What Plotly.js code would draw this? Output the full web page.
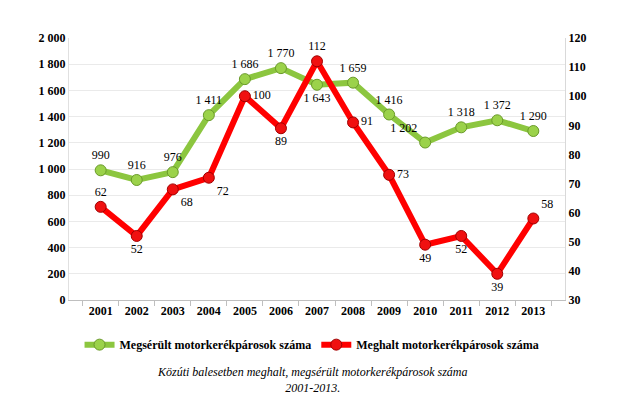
<!DOCTYPE html>
<html>
<head>
<meta charset="utf-8">
<script src="https://cdn.plot.ly/plotly-3.0.1.min.js"></script>
<style>html,body{margin:0;padding:0;background:#fff;}#chart{width:625px;height:399px;}</style>
</head>
<body>
<div id="chart"></div>
<script>
const years = ['2001','2002','2003','2004','2005','2006','2007','2008','2009','2010','2011','2012','2013'];
const injured = [990, 916, 976, 1411, 1686, 1770, 1643, 1659, 1416, 1202, 1318, 1372, 1290];
const killed = [62, 52, 68, 72, 100, 89, 112, 91, 73, 49, 52, 39, 58];
const injuredName = 'Megsérült motorkerékpárosok száma';
const killedName = 'Meghalt motorkerékpárosok száma';
const injuredPos = ['top center','top center','top center','top center','top center','top center','bottom center','top center','top center','top left','top center','top center','top center'];
const killedPos = ['top center','bottom center','bottom right','bottom right','middle right','bottom center','top center','middle right','middle right','bottom center','bottom center','bottom center','top right'];

function fmt(v){ const s = String(v); return s.length > 3 ? s.slice(0, s.length-3) + ' ' + s.slice(-3) : s; }

const fam = 'Liberation Serif, Times New Roman, serif';

const traces = [
  {
    x: years, y: injured, name: injuredName, type: 'scatter', mode: 'lines+markers+text',
    line: {color: '#8CC63F', width: 6},
    marker: {color: '#9BD24A', size: 11, line: {color: '#6A9A2A', width: 1}},
    text: injured.map(fmt), textposition: injuredPos,
    textfont: {family: fam, size: 12, color: '#000'},
    yaxis: 'y', cliponaxis: false
  },
  {
    x: years, y: killed, name: killedName, type: 'scatter', mode: 'lines+markers+text',
    line: {color: '#FF0000', width: 6},
    marker: {color: '#F01010', size: 11, line: {color: '#A00000', width: 1}},
    text: killed.map(String), textposition: killedPos,
    textfont: {family: fam, size: 12, color: '#000'},
    yaxis: 'y2', cliponaxis: false
  }
];

const layout = {
  width: 625, height: 399,
  margin: {l: 69, r: 60, t: 38, b: 99},
  paper_bgcolor: '#fff', plot_bgcolor: '#fff',
  separators: ', ',
  font: {family: fam, size: 12, color: '#000'},
  showlegend: true,
  legend: {orientation: 'h', x: 0.49, xanchor: 'center', y: -0.115, yanchor: 'top',
           font: {family: fam, size: 12, color: '#000', weight: 'bold'}, tracegroupgap: 0},
  xaxis: {
    type: 'category', showgrid: false, showline: true, linecolor: '#BFBFBF', linewidth: 1,
    ticks: 'outside', tickson: 'boundaries', ticklen: 5, tickcolor: '#BFBFBF',
    tickfont: {family: fam, size: 12, color: '#000', weight: 'bold'}, fixedrange: true
  },
  yaxis: {
    range: [0, 2000], dtick: 200, tickformat: ',d', showgrid: true, gridcolor: '#EAEAEA',
    showline: true, linecolor: '#E0E0E0', zeroline: false, ticks: '', ticklen: 0,
    tickfont: {family: fam, size: 12, color: '#000', weight: 'bold'}
  },
  yaxis2: {
    range: [30, 120], dtick: 10, overlaying: 'y', side: 'right', showgrid: false,
    showline: true, linecolor: '#D9D9D9', zeroline: false,
    tickfont: {family: fam, size: 12, color: '#000', weight: 'bold'}
  },
  annotations: [{
    xref: 'paper', yref: 'paper', x: 0.49, y: -0.24, xanchor: 'center', yanchor: 'top',
    showarrow: false, align: 'center',
    text: '<i>Közúti balesetben meghalt, megsérült motorkerékpárosok száma<br>2001-2013.</i>',
    font: {family: fam, size: 12, color: '#000'}
  }]
};

Plotly.newPlot('chart', traces, layout, {displayModeBar: false, staticPlot: true});
</script>
</body>
</html>
